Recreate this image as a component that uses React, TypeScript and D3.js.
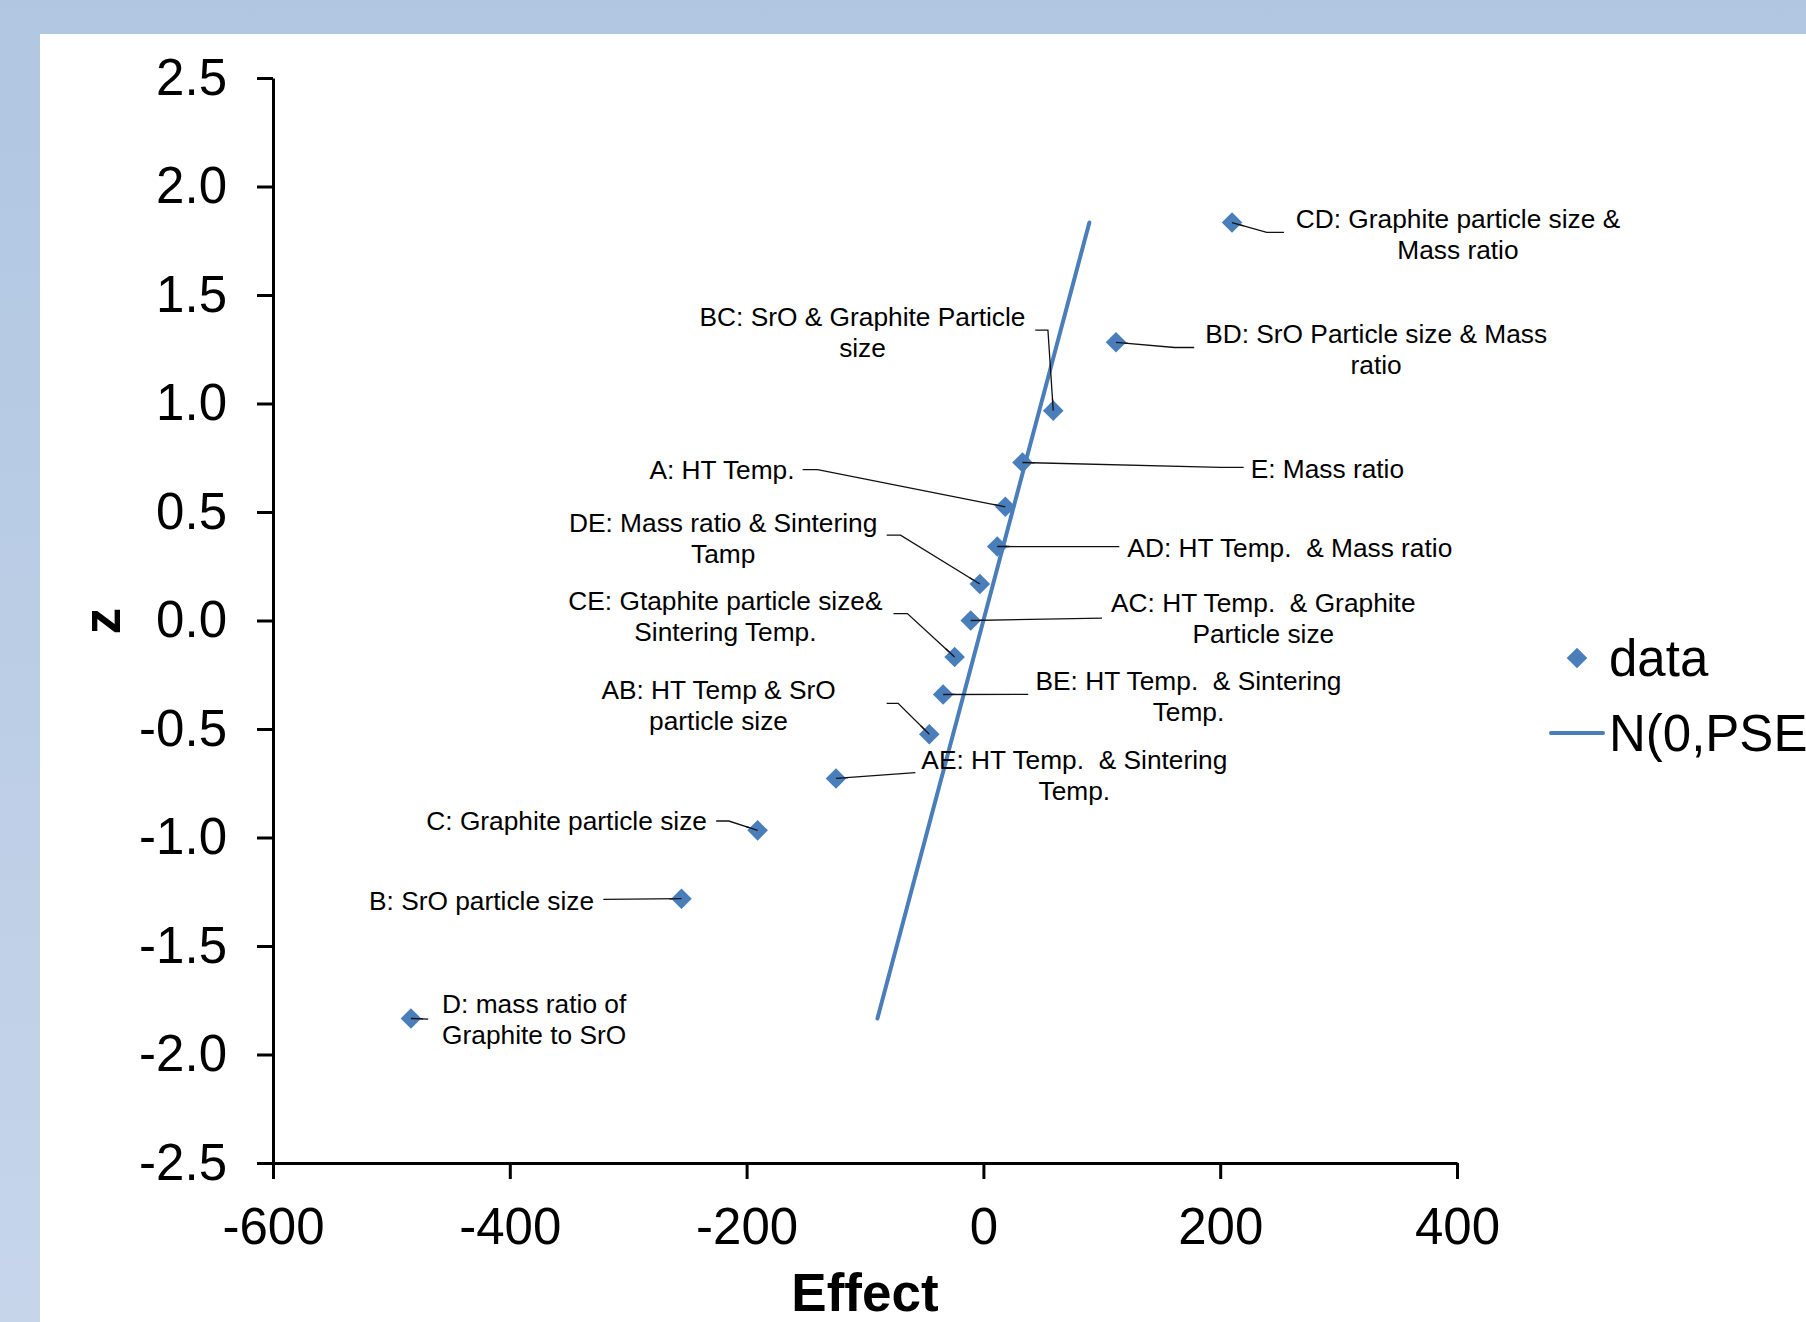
import React, { useRef, useEffect } from 'react';
import * as d3 from 'd3';

// factor effects
const factors = ['D', 'B', 'C', 'AE', 'AB', 'BE', 'CE', 'AC', 'DE', 'AD', 'A', 'E', 'BC', 'BD', 'CD'];
const effects = [-483.5, -255, -190.7, -124.5, -45.7, -34, -24.3, -10.7, -3, 11.7, 18.5, 33, 59, 112, 210];
const zScores = [-1.834, -1.282, -0.967, -0.728, -0.524, -0.341, -0.168, 0, 0.168, 0.341, 0.524, 0.728, 0.967, 1.282, 1.834];

// N(0,PSE) reference line end points
const lineEffects = [-89.5, 89.5];
const lineZ = [-1.834, 1.834];

const xTicks = [-600, -400, -200, 0, 200, 400];
const yTicks = [-2.5, -2.0, -1.5, -1.0, -0.5, 0, 0.5, 1.0, 1.5, 2.0, 2.5];

// label text per factor
const labelText: Record<string, string[]> = {
    CD: ['CD: Graphite particle size &', 'Mass ratio'],
    BD: ['BD: SrO Particle size & Mass', 'ratio'],
    BC: ['BC: SrO & Graphite Particle', 'size'],
    E: ['E: Mass ratio'],
    A: ['A: HT Temp.'],
    AD: ['AD: HT Temp.  & Mass ratio'],
    DE: ['DE: Mass ratio & Sintering', 'Tamp'],
    AC: ['AC: HT Temp.  & Graphite', 'Particle size'],
    CE: ['CE: Gtaphite particle size&', 'Sintering Temp.'],
    BE: ['BE: HT Temp.  & Sintering', 'Temp.'],
    AB: ['AB: HT Temp & SrO', 'particle size'],
    AE: ['AE: HT Temp.  & Sintering', 'Temp.'],
    C: ['C: Graphite particle size'],
    B: ['B: SrO particle size'],
    D: ['D: mass ratio of', 'Graphite to SrO'],
};

// label placement, in data units (effect, z)
type Placement = { x: number; y: number; anchor: string; leader: [number, number][] };
const labelLayout: Record<string, Placement> = {
    CD: { x: 400.8, y: 1.852, anchor: 'middle', leader: [[239.3, 1.789], [253.9, 1.789]] },
    BD: { x: 331.7, y: 1.322, anchor: 'middle', leader: [[161.5, 1.258], [178, 1.258]] },
    BC: { x: -102.1, y: 1.401, anchor: 'middle', leader: [[54.5, 1.338], [43.8, 1.338]] },
    E: { x: 225.7, y: 0.701, anchor: 'start', leader: [[200.4, 0.706], [219.8, 0.706]] },
    A: { x: -159.5, y: 0.695, anchor: 'end', leader: [[-140, 0.695], [-152.7, 0.695]] },
    AD: { x: 121.6, y: 0.334, anchor: 'start', leader: [[114.8, 0.34]] },
    DE: { x: -219.8, y: 0.451, anchor: 'middle', leader: [[-70, 0.393], [-81.7, 0.393]] },
    AC: { x: 236.4, y: 0.08, anchor: 'middle', leader: [[100.2, 0.011]] },
    CE: { x: -217.9, y: 0.09, anchor: 'middle', leader: [[-64.2, 0.032], [-75.9, 0.032]] },
    BE: { x: 173.2, y: -0.276, anchor: 'middle', leader: [[37.9, -0.34]] },
    AB: { x: -223.7, y: -0.318, anchor: 'middle', leader: [[-72, -0.382], [-81.7, -0.382]] },
    AE: { x: 76.8, y: -0.642, anchor: 'middle', leader: [[-57.4, -0.701]] },
    C: { x: -233.5, y: -0.924, anchor: 'end', leader: [[-215, -0.924], [-225.7, -0.924]] },
    B: { x: -328.8, y: -1.29, anchor: 'end', leader: [[-321, -1.285]] },
    D: { x: -379.4, y: -1.768, anchor: 'middle', leader: [[-468.9, -1.837]] },
};

const W = 1806;
const H = 1322;
const BLUE = '#4a7ebb';
const FONT = '"Liberation Sans", Arial, sans-serif';

export default function App() {
    const svgRef = useRef<SVGSVGElement | null>(null);

    useEffect(() => {
        if (!svgRef.current) return;
        const svg = d3.select(svgRef.current);
        svg.selectAll('*').remove();

        const x = d3.scaleLinear().domain([-600, 400]).range([273, 1457]);
        const y = d3.scaleLinear().domain([-2.5, 2.5]).range([1163, 78]);

        const grad = svg.append('defs').append('linearGradient')
            .attr('id', 'bg').attr('x1', 0).attr('y1', 0).attr('x2', 0).attr('y2', 1);
        grad.append('stop').attr('offset', '0%').attr('stop-color', '#b0c6e1');
        grad.append('stop').attr('offset', '100%').attr('stop-color', '#c6d5ea');

        svg.append('rect').attr('width', W).attr('height', H).attr('fill', 'url(#bg)');
        svg.append('rect').attr('x', 40).attr('y', 34).attr('width', W - 40).attr('height', H - 34).attr('fill', '#fff');

        // axes
        const yAxis = svg.append('g')
            .attr('transform', `translate(${x(-600)},0)`)
            .call(d3.axisLeft(y).tickValues(yTicks).tickSize(16).tickSizeOuter(0).tickPadding(30)
                .tickFormat(d => (d as number).toFixed(1).replace('−', '-')));
        const xAxis = svg.append('g')
            .attr('transform', `translate(0,${y(-2.5)})`)
            .call(d3.axisBottom(x).tickValues(xTicks).tickSize(16).tickSizeOuter(0).tickPadding(29)
                .tickFormat(d => String(d)));

        [xAxis, yAxis].forEach(ax => {
            ax.selectAll('path, line').attr('stroke', '#000').attr('stroke-width', 3);
            ax.selectAll('text').attr('fill', '#000').style('font-size', '51px').style('font-family', FONT);
        });

        svg.append('text')
            .attr('x', 865).attr('y', 1311)
            .attr('text-anchor', 'middle')
            .style('font-family', FONT).style('font-size', '53px').style('font-weight', 'bold')
            .text('Effect');

        svg.append('text')
            .attr('transform', 'translate(101,621) rotate(-90)')
            .attr('text-anchor', 'middle').attr('dy', '0.35em')
            .style('font-family', FONT).style('font-size', '53px').style('font-weight', 'bold')
            .text('z');

        // reference line
        const line = d3.line<number>().x(i => x(lineEffects[i])).y(i => y(lineZ[i]));
        svg.append('path')
            .attr('d', line([0, 1]))
            .attr('fill', 'none').attr('stroke', BLUE).attr('stroke-width', 4).attr('stroke-linecap', 'round');

        // leader lines
        const leader = d3.line<[number, number]>().x(d => x(d[0])).y(d => y(d[1]));
        factors.forEach((f, i) => {
            const lay = labelLayout[f];
            const pts: [number, number][] = [[effects[i], zScores[i]], ...lay.leader];
            svg.append('path')
                .attr('d', leader(pts))
                .attr('fill', 'none').attr('stroke', '#111').attr('stroke-width', 1.3);
        });

        // points
        const diamond = d3.symbol().type(d3.symbolDiamond2).size(270);
        svg.selectAll('.pt')
            .data(factors)
            .enter().append('path')
            .attr('class', 'pt')
            .attr('transform', (_, i) => `translate(${x(effects[i])},${y(zScores[i])})`)
            .attr('d', diamond)
            .attr('fill', BLUE);

        // leader start drawn over the diamonds
        factors.forEach((f, i) => {
            const lay = labelLayout[f];
            const first = lay.leader[0];
            const x0 = x(effects[i]), y0 = y(zScores[i]);
            const x1 = x(first[0]), y1 = y(first[1]);
            const len = Math.hypot(x1 - x0, y1 - y0);
            const t = Math.min(1, 12 / len);
            svg.append('line')
                .attr('x1', x0).attr('y1', y0)
                .attr('x2', x0 + (x1 - x0) * t).attr('y2', y0 + (y1 - y0) * t)
                .attr('stroke', '#111').attr('stroke-width', 1.3);
        });

        // labels
        factors.forEach(f => {
            const lay = labelLayout[f];
            const t = svg.append('text')
                .attr('text-anchor', lay.anchor)
                .attr('xml:space', 'preserve')
                .style('white-space', 'pre')
                .style('font-family', FONT).style('font-size', '26.3px').attr('fill', '#000');
            labelText[f].forEach((s, k) => {
                t.append('tspan')
                    .attr('x', x(lay.x))
                    .attr('y', y(lay.y) + k * 31)
                    .attr('dy', '0.35em')
                    .text(s);
            });
        });

        // legend
        svg.append('path')
            .attr('transform', 'translate(1577,658)')
            .attr('d', diamond)
            .attr('fill', BLUE);
        svg.append('text')
            .attr('x', 1609).attr('y', 658).attr('dy', '0.35em')
            .style('font-family', FONT).style('font-size', '51px')
            .text('data');
        svg.append('line')
            .attr('x1', 1551).attr('x2', 1603).attr('y1', 733).attr('y2', 733)
            .attr('stroke', BLUE).attr('stroke-width', 4).attr('stroke-linecap', 'round');
        svg.append('text')
            .attr('x', 1609).attr('y', 733).attr('dy', '0.35em')
            .style('font-family', FONT).style('font-size', '51px')
            .text('N(0,PSE)');
    }, []);

    return (
        <div style={{ position: 'absolute', left: 0, top: 0 }}>
            <svg ref={svgRef} width={W} height={H} style={{ display: 'block' }}></svg>
        </div>
    );
}
